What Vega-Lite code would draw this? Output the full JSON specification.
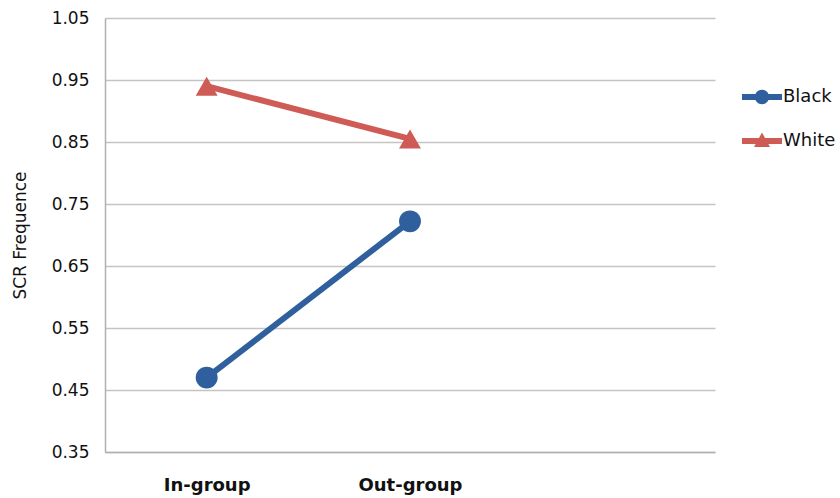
{
  "$schema": "https://vega.github.io/schema/vega-lite/v6.json",
  "width": 610,
  "height": 434,
  "autosize": "none",
  "padding": {"left": 105, "top": 18, "right": 125, "bottom": 46},
  "background": "white",
  "config": {
    "view": {"stroke": null},
    "font": "DejaVu Sans",
    "axis": {"labelFont": "DejaVu Sans", "titleFont": "DejaVu Sans", "labelColor": "#111", "titleColor": "#111"}
  },
  "data": {
    "values": [
      {"group": "In-group", "race": "Black", "scr": 0.47},
      {"group": "Out-group", "race": "Black", "scr": 0.722},
      {"group": "In-group", "race": "White", "scr": 0.94},
      {"group": "Out-group", "race": "White", "scr": 0.855}
    ]
  },
  "encoding": {
    "x": {
      "field": "group",
      "type": "nominal",
      "scale": {"type": "point", "domain": ["In-group", "Out-group", " "], "padding": 0.5},
      "axis": {"title": null, "labelAngle": 0, "labelFontSize": 18, "labelFontWeight": "bold", "labelPadding": 24, "ticks": false, "grid": false, "domainColor": "#b0b0b0", "domainWidth": 1.5}
    },
    "y": {
      "field": "scr",
      "type": "quantitative",
      "scale": {"domain": [0.35, 1.05], "nice": false, "zero": false},
      "axis": {"title": "SCR Frequence", "titleFontSize": 17, "titleFontWeight": "normal", "titlePadding": 22, "values": [0.35, 0.45, 0.55, 0.65, 0.75, 0.85, 0.95, 1.05], "format": ".2f", "labelFontSize": 17, "labelPadding": 16, "ticks": false, "gridColor": "#c4c4c4", "gridWidth": 1.5, "domainColor": "#b0b0b0", "domainWidth": 1.5}
    },
    "color": {
      "field": "race",
      "type": "nominal",
      "scale": {"domain": ["Black", "White"], "range": ["#2f5f9d", "#cf5b56"]},
      "legend": {
        "title": null, "labelFontSize": 18, "labelFont": "DejaVu Sans", "labelColor": "#111",
        "symbolSize": 1600, "symbolStrokeWidth": 0, "rowPadding": 15,
        "orient": "none", "legendX": 637, "legendY": 59, "padding": 0, "labelOffset": 1
      }
    }
  },
  "layer": [
    {"mark": {"type": "line", "strokeWidth": 6}},
    {"transform": [{"filter": "datum.race === 'Black'"}], "mark": {"type": "point", "shape": "circle", "filled": true, "size": 480, "opacity": 1}},
    {"transform": [{"filter": "datum.race === 'White'"}], "mark": {"type": "point", "shape": "triangle-up", "filled": true, "size": 480, "opacity": 1}},
    {
      "mark": {"type": "point", "filled": true, "size": 0, "opacity": 1},
      "encoding": {
        "shape": {
          "field": "race",
          "type": "nominal",
          "scale": {"domain": ["Black", "White"], "range": ["M-1,-0.15H1V0.15H-1Z M0.36,0 A0.36,0.36 0 1,1 -0.36,0 A0.36,0.36 0 1,1 0.36,0Z", "M-1,-0.15H1V0.15H-1Z M0,-0.42 L0.4,0.3 L-0.4,0.3Z"]},
          "legend": {"title": null, "symbolSize": 1600, "symbolStrokeWidth": 0, "orient": "none", "legendX": 637, "legendY": 59, "padding": 0, "labelOffset": 1, "rowPadding": 15, "labelFontSize": 18, "labelFont": "DejaVu Sans", "labelColor": "#111"}
        }
      }
    }
  ]
}
